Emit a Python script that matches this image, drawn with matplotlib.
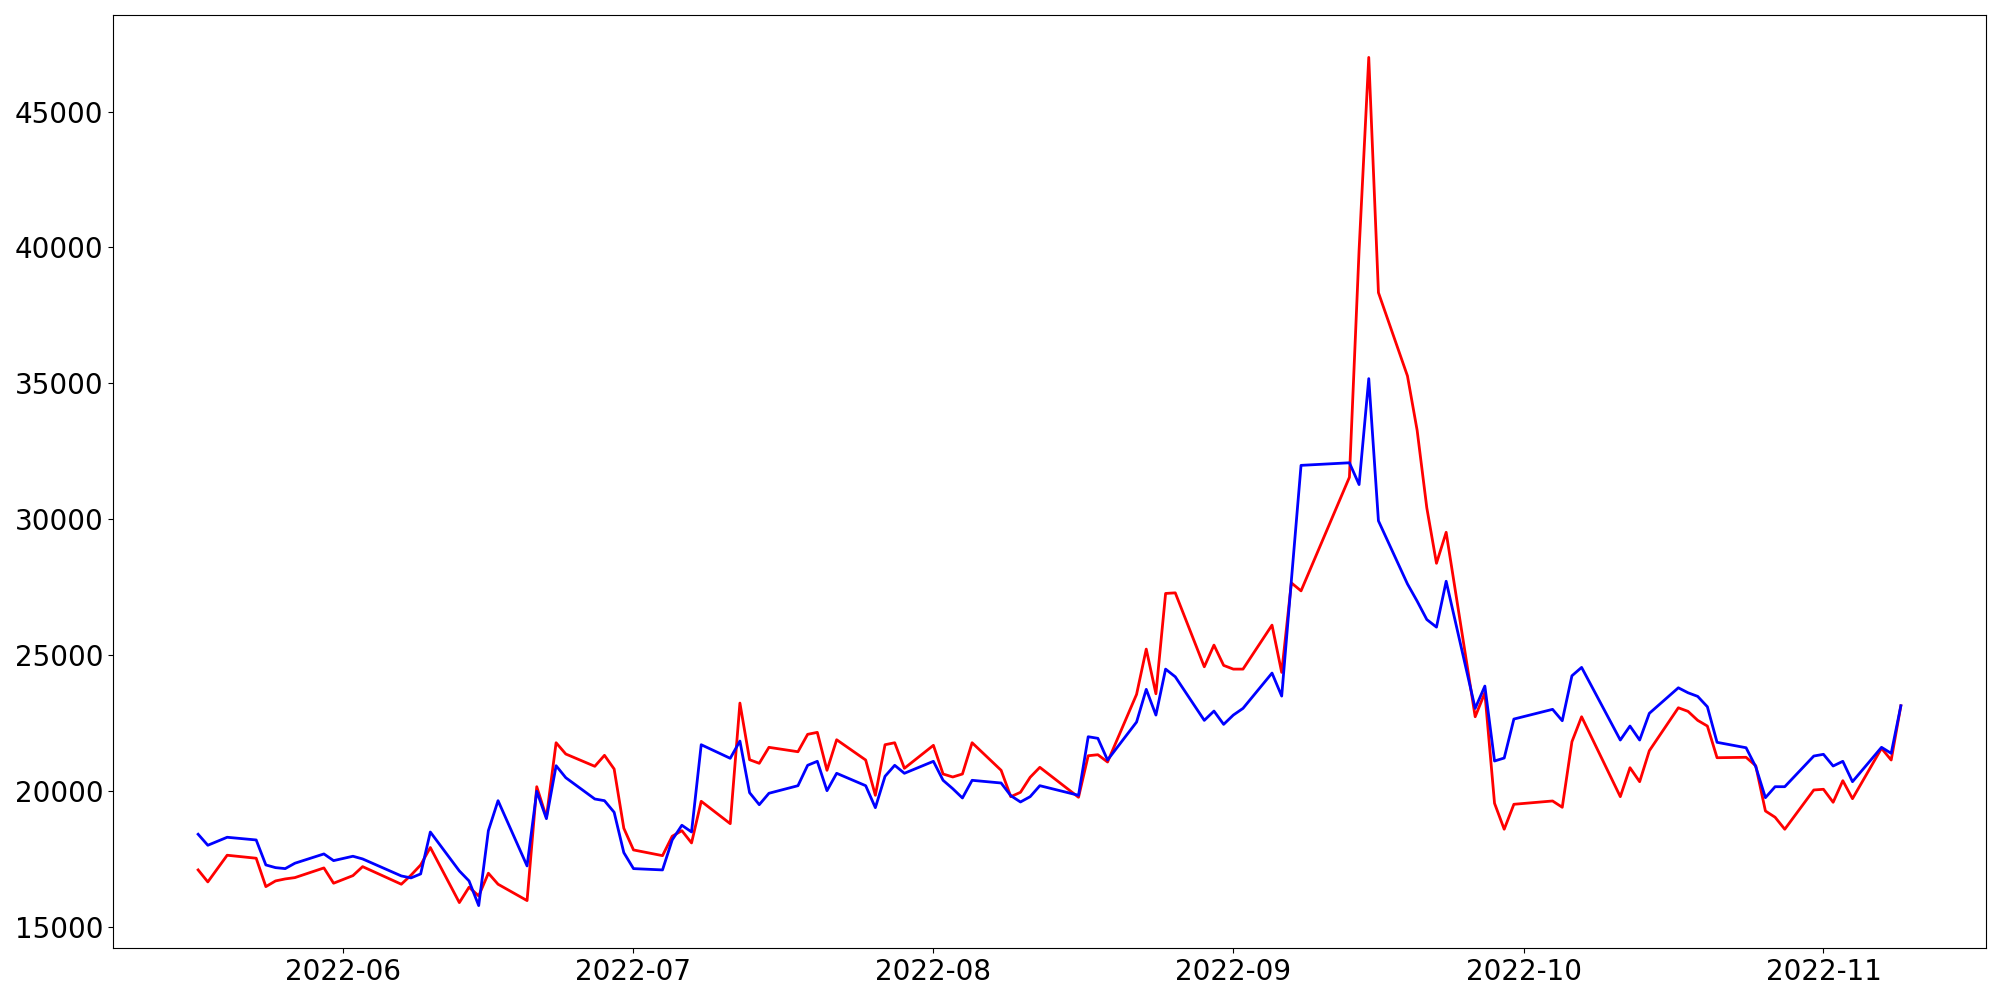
import pandas as pd
import matplotlib
matplotlib.use('Agg')
import matplotlib.pyplot as plt

dates = [
    '2022-05-17', '2022-05-18', '2022-05-20', '2022-05-23', '2022-05-24', '2022-05-25',
    '2022-05-26', '2022-05-27', '2022-05-30', '2022-05-31', '2022-06-02', '2022-06-03',
    '2022-06-07', '2022-06-08', '2022-06-09', '2022-06-10', '2022-06-13', '2022-06-14',
    '2022-06-15', '2022-06-16', '2022-06-17', '2022-06-20', '2022-06-21', '2022-06-22',
    '2022-06-23', '2022-06-24', '2022-06-27', '2022-06-28', '2022-06-29', '2022-06-30',
    '2022-07-01', '2022-07-04', '2022-07-05', '2022-07-06', '2022-07-07', '2022-07-08',
    '2022-07-11', '2022-07-12', '2022-07-13', '2022-07-14', '2022-07-15', '2022-07-18',
    '2022-07-19', '2022-07-20', '2022-07-21', '2022-07-22', '2022-07-25', '2022-07-26',
    '2022-07-27', '2022-07-28', '2022-07-29', '2022-08-01', '2022-08-02', '2022-08-03',
    '2022-08-04', '2022-08-05', '2022-08-08', '2022-08-09', '2022-08-10', '2022-08-11',
    '2022-08-12', '2022-08-16', '2022-08-17', '2022-08-18', '2022-08-19', '2022-08-22',
    '2022-08-23', '2022-08-24', '2022-08-25', '2022-08-26', '2022-08-29', '2022-08-30',
    '2022-08-31', '2022-09-01', '2022-09-02', '2022-09-05', '2022-09-06', '2022-09-07',
    '2022-09-08', '2022-09-13', '2022-09-14', '2022-09-15', '2022-09-16', '2022-09-19',
    '2022-09-20', '2022-09-21', '2022-09-22', '2022-09-23', '2022-09-26', '2022-09-27',
    '2022-09-28', '2022-09-29', '2022-09-30', '2022-10-04', '2022-10-05', '2022-10-06',
    '2022-10-07', '2022-10-11', '2022-10-12', '2022-10-13', '2022-10-14', '2022-10-17',
    '2022-10-18', '2022-10-19', '2022-10-20', '2022-10-21', '2022-10-24', '2022-10-25',
    '2022-10-26', '2022-10-27', '2022-10-28', '2022-10-31', '2022-11-01', '2022-11-02',
    '2022-11-03', '2022-11-04', '2022-11-07', '2022-11-08', '2022-11-09',
]

red = [
    17106, 16665, 17646, 17536, 16492, 16701,
    16775, 16823, 17179, 16617, 16896, 17227,
    16580, 16911, 17289, 17930, 15904, 16470,
    16150, 16985, 16580, 15978, 20167, 19043,
    21784, 21369, 20917, 21321, 20817, 18638,
    17841, 17631, 18344, 18550, 18098, 19630,
    18807, 23243, 21159, 21027, 21615, 21453,
    22093, 22166, 20770, 21894, 21148, 19851,
    21711, 21784, 20843, 21689, 20634, 20524,
    20634, 21784, 20770, 19800, 19961, 20513,
    20880, 19778, 21306, 21343, 21075, 23563,
    25228, 23585, 27275, 27297, 24577, 25375,
    24629, 24492, 24492, 26110, 24371, 27664,
    27370, 31549, 39900, 46991, 38340, 35275,
    33276, 30424, 28384, 29524, 22740, 23622,
    19557, 18602, 19520, 19642, 19410, 21821,
    22740, 19800, 20865, 20351, 21490, 23070,
    22938, 22607, 22398, 21233, 21248, 20939,
    19274, 19043, 18602, 20046, 20072, 19594,
    20388, 19726, 21578, 21148, 23144,
]

blue = [
    18418, 18013, 18307, 18208, 17289, 17190,
    17154, 17352, 17694, 17448, 17609, 17510,
    16885, 16812, 16959, 18500, 17069, 16701,
    15794, 18550, 19653, 17253, 19998, 18991,
    20939, 20498, 19715, 19653, 19226, 17742,
    17154, 17106, 18208, 18749, 18502, 21711,
    21211, 21846, 19947, 19506, 19925, 20204,
    20954, 21101, 20020, 20660, 20204, 19395,
    20549, 20954, 20660, 21101, 20402, 20094,
    19752, 20402, 20303, 19836, 19605, 19800,
    20204, 19851, 22005, 21946, 21148, 22545,
    23747, 22802, 24492, 24210, 22607, 22949,
    22460, 22802, 23048, 24346, 23500, 27750,
    31986, 32081, 31280, 35176, 29946, 27624,
    26992, 26315, 26036, 27723, 23048, 23868,
    21112, 21222, 22655, 23012, 22593, 24246,
    24555, 21883, 22398, 21883, 22865, 23805,
    23622, 23489, 23107, 21799, 21600, 20902,
    19763, 20167, 20167, 21295, 21358, 20928,
    21101, 20351, 21615, 21395, 23144,
]

x = pd.to_datetime(dates)

fig = plt.figure(figsize=(20, 10), dpi=100)
plt.plot(x, red, color='red', linewidth=2)
plt.plot(x, blue, color='blue', linewidth=2)
plt.xticks(fontsize=20)
plt.yticks(fontsize=20)
plt.subplots_adjust(left=0.0565, right=0.993, top=0.985, bottom=0.052)

plt.savefig('out.png')
